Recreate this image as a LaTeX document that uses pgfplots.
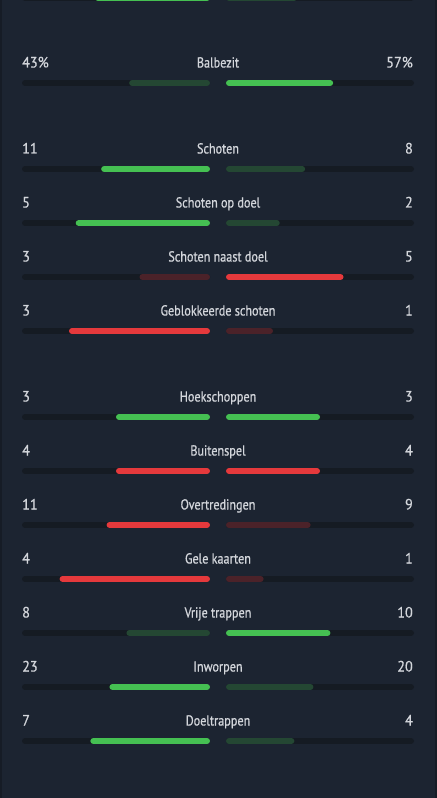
\documentclass[border=0pt]{standalone}
\usepackage{pgfplots}
\pgfplotsset{compat=1.18}
\usepackage{fontspec}
\setmainfont{PT Sans}[FakeStretch=0.84,FakeBold=0.7]
\newfontfamily\valfont{PT Sans}[FakeStretch=0.95,FakeBold=0.5]
\definecolor{bg}{HTML}{1C2431}
\definecolor{edge}{HTML}{161C26}
\definecolor{trk}{HTML}{151B23}
\definecolor{gB}{HTML}{45C052}
\definecolor{gD}{HTML}{244733}
\definecolor{rB}{HTML}{E5393C}
\definecolor{rD}{HTML}{4B2229}
\definecolor{txt}{HTML}{D3D6DB}
\tikzset{lab/.style={text=txt, inner sep=0pt, font=\fontsize{14.5bp}{16bp}\selectfont},
         val/.style={text=txt, inner sep=0pt, font=\valfont\fontsize{15bp}{16bp}\selectfont}}

\newcommand{\statrow}[8]{%
  \pgfmathsetmacro\yb{#1+21}%
  \pgfmathsetmacro\la{210-188*#3/(#3+#4)+3}%
  \pgfmathsetmacro\rb{226+188*#4/(#3+#4)-3}%
  \addplot[trk, line width=6bp, line cap=round] coordinates {(25,\yb) (207,\yb)};
  \addplot[trk, line width=6bp, line cap=round] coordinates {(229,\yb) (411,\yb)};
  \addplot[#7, line width=6bp, line cap=round] coordinates {(\la,\yb) (207,\yb)};
  \addplot[#8, line width=6bp, line cap=round] coordinates {(229,\yb) (\rb,\yb)};
  \node[lab, anchor=base] at (axis cs:218,#1+5.5) {#2};
  \node[val, anchor=base west] at (axis cs:22,#1+5.5) {#5};
  \node[val, anchor=base east] at (axis cs:413,#1+5.5) {#6};
}

\begin{document}
\begin{tikzpicture}
\fill[bg] (0,0) rectangle (437bp,798bp);
\fill[edge] (0,0) rectangle (2bp,798bp);
\fill[edge] (435bp,0) rectangle (437bp,798bp);
\begin{axis}[
  at={(0,0)}, anchor=south west,
  width=437bp, height=798bp, scale only axis,
  xmin=0, xmax=437, ymin=0, ymax=798, y dir=reverse,
  axis lines=none, ticks=none, clip=true,
]
% partially visible row at the top
\addplot[trk, line width=6bp, line cap=round] coordinates {(25,-2) (207,-2)};
\addplot[trk, line width=6bp, line cap=round] coordinates {(229,-2) (411,-2)};
\addplot[gB, line width=6bp, line cap=round] coordinates {(98,-2) (207,-2)};
\addplot[gD, line width=6bp, line cap=round] coordinates {(229,-2) (294,-2)};

\statrow{62}{Balbezit}{43}{57}{43\%}{57\%}{gD}{gB}
\statrow{148}{Schoten}{11}{8}{11}{8}{gB}{gD}
\statrow{202}{Schoten op doel}{5}{2}{5}{2}{gB}{gD}
\statrow{256}{Schoten naast doel}{3}{5}{3}{5}{rD}{rB}
\statrow{310}{Geblokkeerde schoten}{3}{1}{3}{1}{rB}{rD}
\statrow{396}{Hoekschoppen}{3}{3}{3}{3}{gB}{gB}
\statrow{450}{Buitenspel}{4}{4}{4}{4}{rB}{rB}
\statrow{504}{Overtredingen}{11}{9}{11}{9}{rB}{rD}
\statrow{558}{Gele kaarten}{4}{1}{4}{1}{rB}{rD}
\statrow{612}{Vrije trappen}{8}{10}{8}{10}{gD}{gB}
\statrow{666}{Inworpen}{23}{20}{23}{20}{gB}{gD}
\statrow{720}{Doeltrappen}{7}{4}{7}{4}{gB}{gD}
\end{axis}
\end{tikzpicture}
\end{document}
